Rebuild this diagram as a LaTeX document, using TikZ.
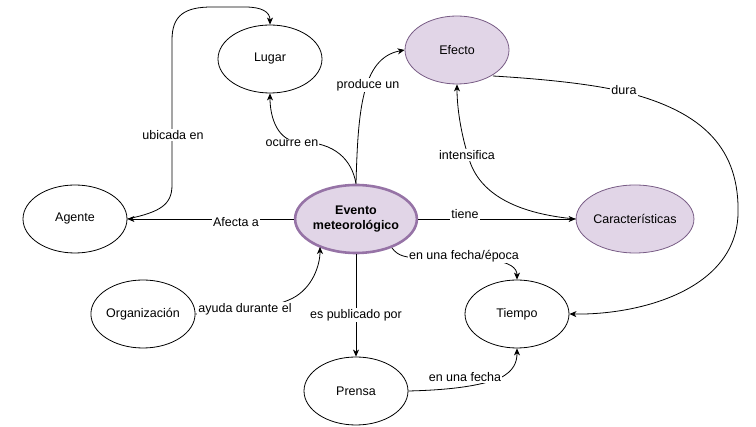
\documentclass[tikz,border=0pt]{standalone}
\usepackage{fontspec}
\setmainfont{Liberation Sans}
\usetikzlibrary{arrows.meta,shapes.geometric}
\definecolor{pfill}{HTML}{E1D5E7}
\definecolor{pstroke}{HTML}{9673A6}
\tikzset{
  concept/.style={ellipse, draw=black, line width=0.8pt, fill=white, minimum width=104pt, minimum height=68pt, inner sep=0pt, font=\fontsize{12.5}{14.5}\selectfont},
  pconcept/.style={concept, fill=pfill, draw=pstroke!80!black},
  mainconcept/.style={concept, fill=pfill, draw=pstroke, line width=2.6pt, font=\fontsize{12.5}{14.5}\selectfont\bfseries, align=center},
  conn/.style={draw=black, line width=0.8pt, -{Stealth[length=7pt,width=6pt,inset=2pt]}},
  lbl/.style={fill=white, inner sep=1pt, font=\fontsize{12.5}{14.5}\selectfont}
}
\begin{document}
\begin{tikzpicture}[x=1pt,y=-1pt]
\useasboundingbox (0,0) rectangle (756,427);
\node[concept] (lu) at (270,59) {Lugar};
\node[pconcept] (ef) at (457,50) {Efecto};
\node[concept] (ag) at (75,219) {Agente};
\node[mainconcept] (ev) at (356,219) {Evento\\meteorológico};
\node[pconcept] (ca) at (635,219) {Características};
\node[concept] (or) at (143,314) {Organización};
\node[concept] (ti) at (517,314) {Tiempo};
\node[concept] (pr) at (356,391) {Prensa};

% Agente -> Lugar
\draw[conn] (ag.east) .. controls (160,212) and (172,205) .. (172,185) -- (172,40) .. controls (172,15) and (185,7) .. (212,7) -- (245,7) .. controls (262,7) and (270,12) .. (lu.north);
\node[lbl] (l1) at (173,135) {ubicada en};
% Evento -> Lugar
\draw[conn] (ev.north) .. controls (352,160) and (335,142) .. (300,142) .. controls (278,142) and (270,118) .. (lu.south);
\node[lbl] (l2) at (292,143) {ocurre en};
% Evento -> Efecto
\draw[conn] (ev.north) .. controls (358,110) and (362,58) .. (ef.west);
\node[lbl] (l3) at (368,85) {produce un};
% Efecto -> Tiempo
\draw[conn] (493,76) .. controls (560,80) and (600,86) .. (625,92) .. controls (705,112) and (740,150) .. (738,215) .. controls (735,290) and (640,315) .. (ti.east);
\node[lbl] (l4) at (624,90) {dura};
% Caracteristicas -> Efecto
\draw[conn] (ca.west) .. controls (520,214) and (482,196) .. (470,162) .. controls (460,132) and (457,105) .. (ef.south);
\node[lbl] (l5) at (467,155) {intensifica};
% Evento -> Caracteristicas
\draw[conn] (ev.east) -- (ca.west);
\node[lbl] (l6) at (465,214) {tiene};
% Evento -> Agente
\draw[conn] (ev.west) -- (ag.east);
\node[lbl] (l7) at (236,222) {Afecta a};
% Organizacion -> Evento
\draw[conn] (or.east) .. controls (230,312) and (270,310) .. (293,298) .. controls (312,288) and (320,266) .. (320,247);
\node[lbl] (l8) at (245,309) {ayuda durante el};
% Evento -> Prensa
\draw[conn] (ev.south) -- (pr.north);
\node[lbl] (l9) at (356,315) {es publicado por};
% Evento -> Tiempo
\draw[conn] (392,248) .. controls (398,256) and (405,258) .. (425,258) -- (490,260) .. controls (510,262) and (517,268) .. (ti.north);
\node[lbl] (l10) at (464,256) {en una fecha/época};
% Prensa -> Tiempo
\draw[conn] (pr.east) .. controls (450,390) and (480,386) .. (500,378) .. controls (514,371) and (517,362) .. (ti.south);
\node[lbl] (l11) at (465,377) {en una fecha};
\end{tikzpicture}
\end{document}
